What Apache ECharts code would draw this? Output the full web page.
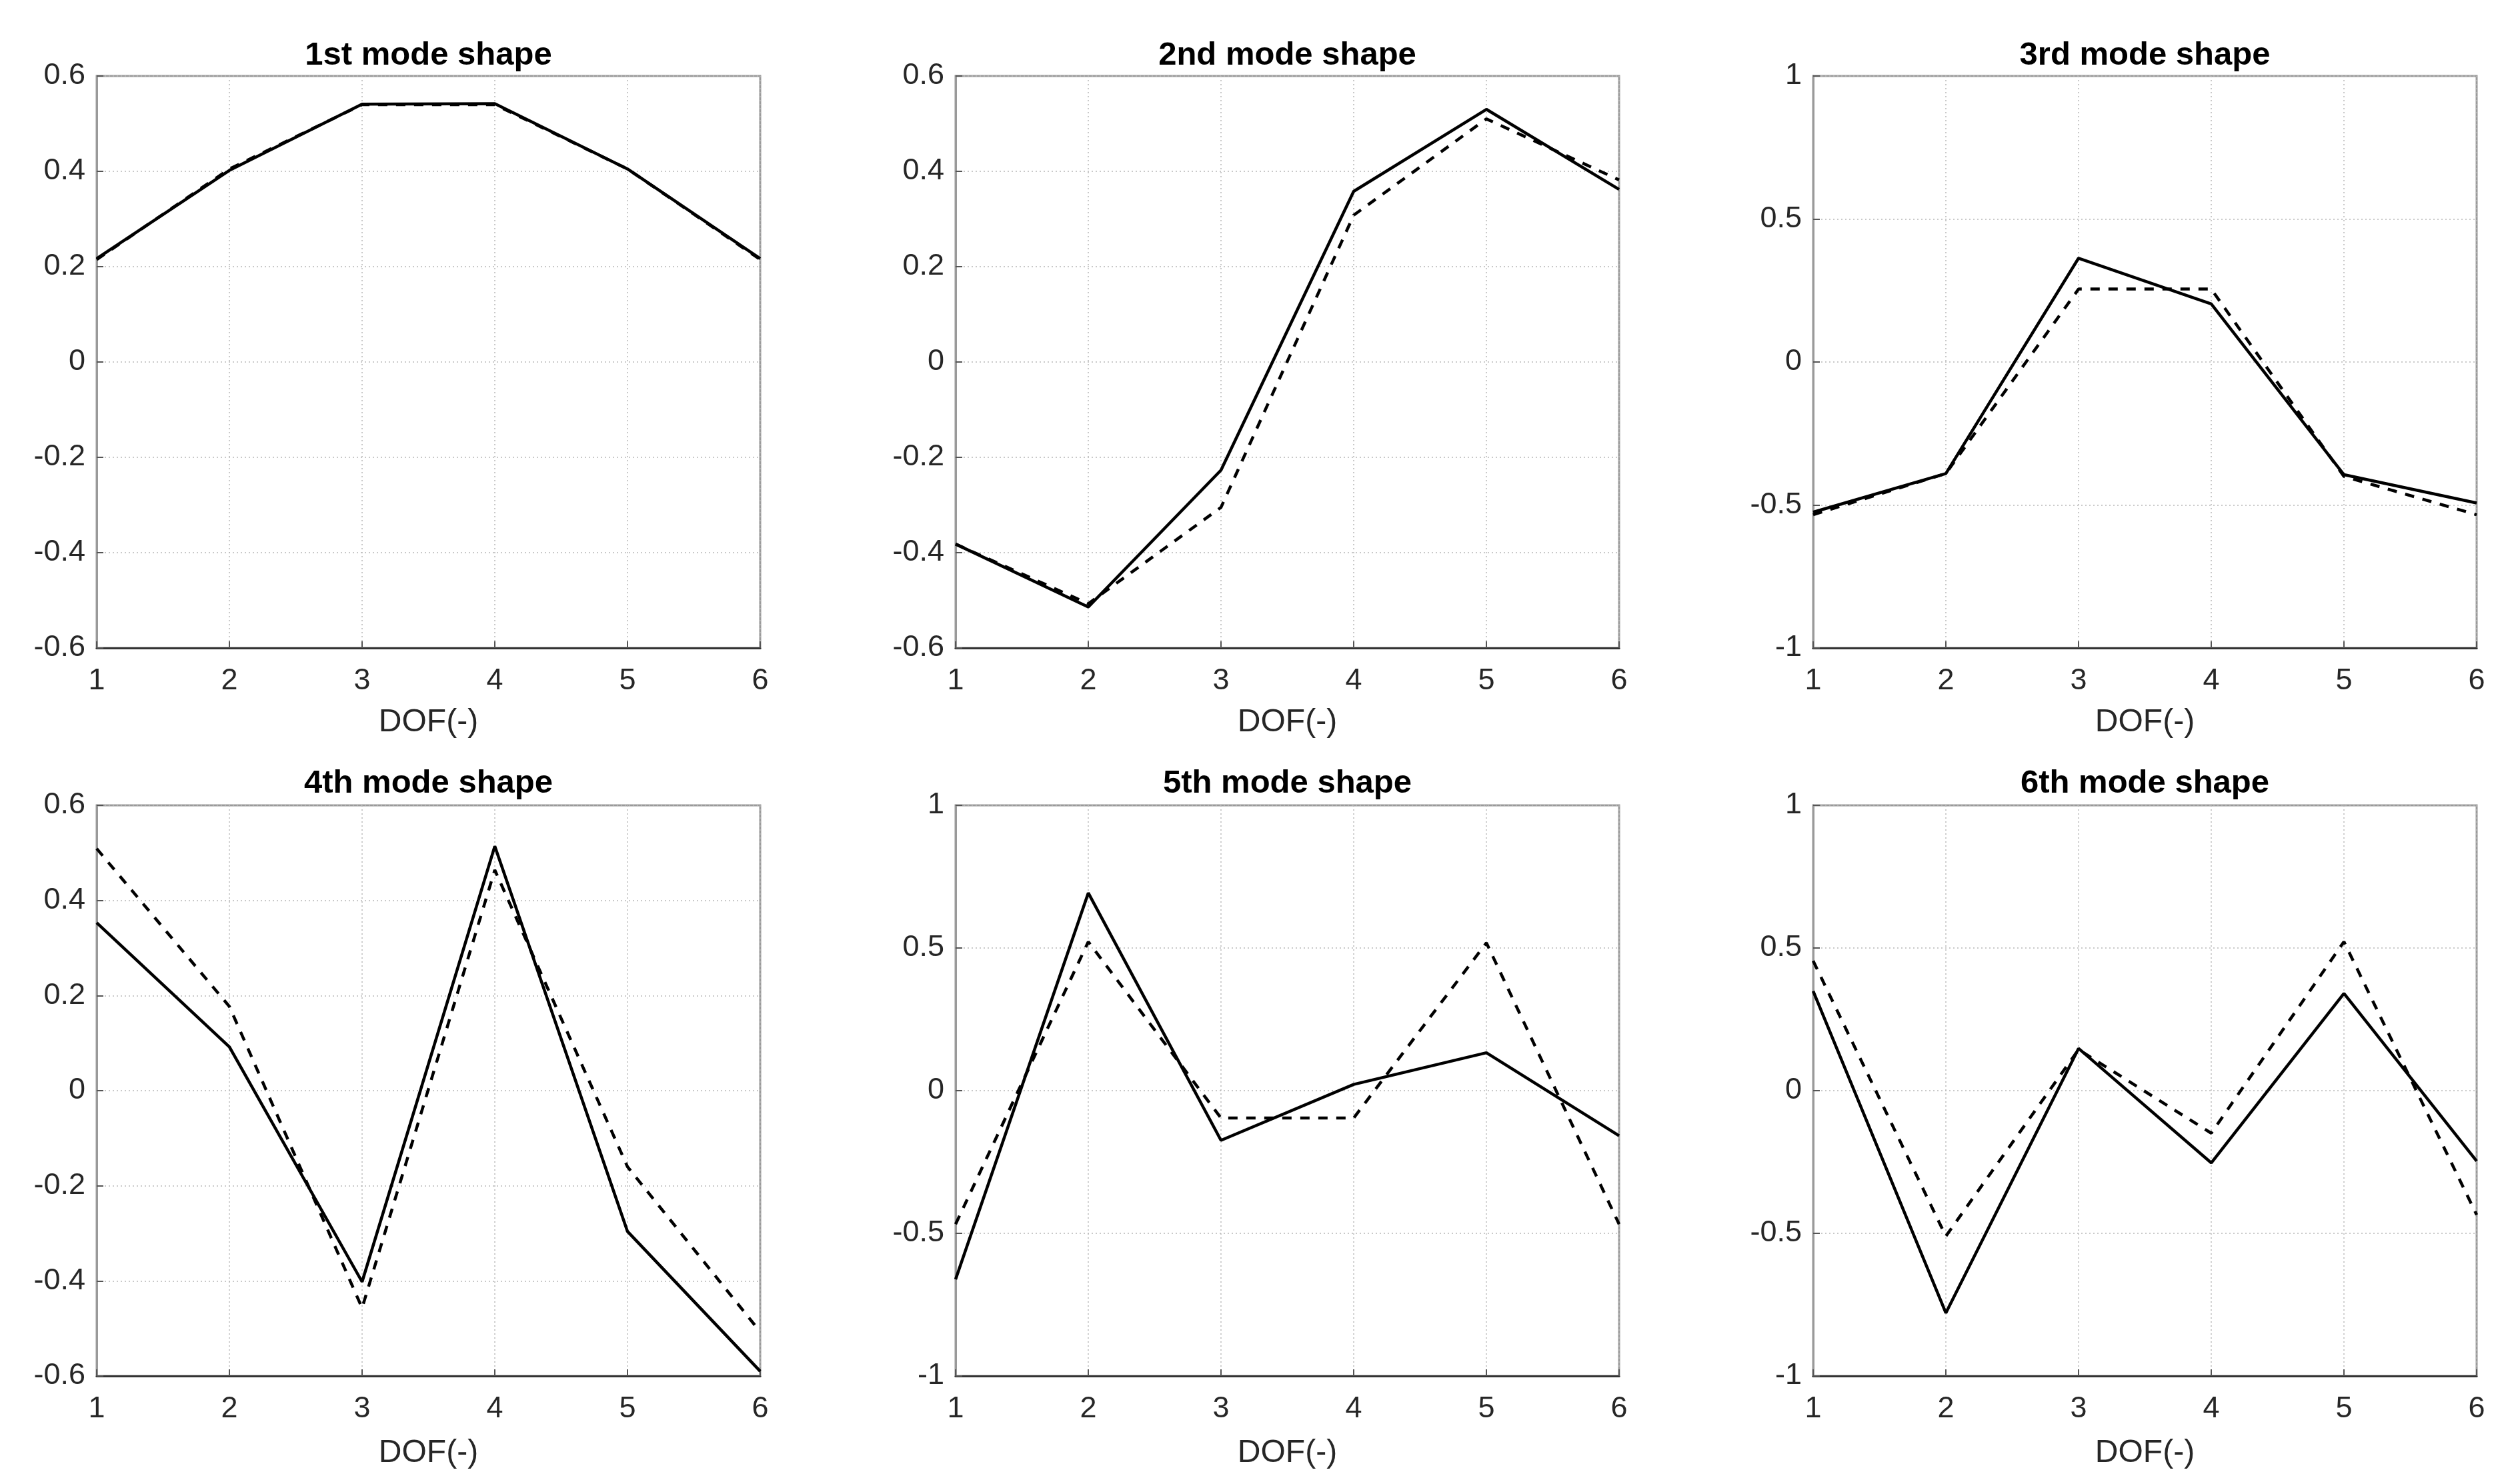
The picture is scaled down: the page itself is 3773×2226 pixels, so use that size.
<!DOCTYPE html>
<html>
<head>
<meta charset="utf-8">
<script src="https://cdn.jsdelivr.net/npm/echarts@6/dist/echarts.min.js"></script>
<style>
html,body{margin:0;padding:0;background:#fff;}
#chart{width:3773px;height:2226px;}
</style>
</head>
<body>
<div id="chart"></div>
<script>
// ---- data ----
const dof = [1, 2, 3, 4, 5, 6];
const xTicks = ['1', '2', '3', '4', '5', '6'];
const titles = ['1st mode shape', '2nd mode shape', '3rd mode shape', '4th mode shape', '5th mode shape', '6th mode shape'];
const xLabel = 'DOF(-)';

const mode1Solid  = [0.217, 0.402, 0.541, 0.542, 0.405, 0.217];
const mode1Dashed = [0.215, 0.405, 0.540, 0.540, 0.405, 0.215];

const mode2Solid  = [-0.382, -0.514, -0.227, 0.358, 0.530, 0.362];
const mode2Dashed = [-0.382, -0.507, -0.305, 0.308, 0.510, 0.382];

const mode3Solid  = [-0.525, -0.390, 0.363, 0.203, -0.394, -0.493];
const mode3Dashed = [-0.534, -0.390, 0.255, 0.255, -0.400, -0.534];

const mode4Solid  = [0.353, 0.092, -0.402, 0.514, -0.296, -0.590];
const mode4Dashed = [0.509, 0.177, -0.457, 0.464, -0.160, -0.507];

const mode5Solid  = [-0.661, 0.693, -0.174, 0.022, 0.133, -0.158];
const mode5Dashed = [-0.468, 0.522, -0.096, -0.096, 0.518, -0.468];

const mode6Solid  = [0.349, -0.779, 0.148, -0.253, 0.341, -0.247];
const mode6Dashed = [0.455, -0.510, 0.144, -0.149, 0.522, -0.435];

// y-axis ranges per panel [min, max, interval]
const yRanges = [
  [-0.6, 0.6, 0.2], [-0.6, 0.6, 0.2], [-1, 1, 0.5],
  [-0.6, 0.6, 0.2], [-1, 1, 0.5], [-1, 1, 0.5]
];

const solids = [mode1Solid, mode2Solid, mode3Solid, mode4Solid, mode5Solid, mode6Solid];
const dasheds = [mode1Dashed, mode2Dashed, mode3Dashed, mode4Dashed, mode5Dashed, mode6Dashed];

// ---- layout ----
const colLefts = [145, 1433, 2719];
const rowTops = [114, 1208];
const gridW = 995;
const gridHs = [858, 856];
const titleTops = [59, 1151];
const nameGaps = [88, 92];
const FONT = "'Liberation Sans', Arial, Helvetica, sans-serif";

const grids = [], xAxes = [], yAxes = [], series = [], titleArr = [];

for (let i = 0; i < 6; i++) {
  const r = Math.floor(i / 3), c = i % 3;
  grids.push({
    left: colLefts[c], top: rowTops[r], width: gridW, height: gridHs[r],
    show: true, borderColor: '#9a9a9a', borderWidth: 3, backgroundColor: '#fff'
  });
  titleArr.push({
    text: titles[i],
    left: colLefts[c] + gridW / 2,
    top: titleTops[r],
    textAlign: 'center',
    padding: 0,
    textStyle: { fontFamily: FONT, fontSize: 49, fontWeight: 'bold', color: '#000' }
  });
  xAxes.push({
    type: 'value', gridIndex: i, min: 1, max: 6, interval: 1,
    name: xLabel, nameLocation: 'middle', nameGap: nameGaps[r],
    nameTextStyle: { fontFamily: FONT, fontSize: 48, color: '#262626' },
    axisLine: { show: true, onZero: false, lineStyle: { color: '#333', width: 3 } },
    axisTick: { show: true, inside: true, length: 10, lineStyle: { color: '#555', width: 2 } },
    axisLabel: {
      fontFamily: FONT, fontSize: 45, color: '#262626', margin: 27,
      formatter: v => xTicks[dof.indexOf(v)] !== undefined ? xTicks[dof.indexOf(v)] : ''
    },
    splitLine: { show: true, lineStyle: { color: '#b8b8b8', width: 1.5, type: [2, 4] } }
  });
  const yr = yRanges[i];
  yAxes.push({
    type: 'value', gridIndex: i, min: yr[0], max: yr[1], interval: yr[2],
    axisLine: { show: true, onZero: false, lineStyle: { color: '#9a9a9a', width: 3 } },
    axisTick: { show: true, inside: true, length: 10, lineStyle: { color: '#555', width: 2 } },
    axisLabel: { fontFamily: FONT, fontSize: 45, color: '#262626', margin: 17 },
    splitLine: { show: true, lineStyle: { color: '#b8b8b8', width: 1.5, type: [2, 4] } }
  });
  series.push({
    type: 'line', xAxisIndex: i, yAxisIndex: i, symbol: 'none', z: 3,
    data: dof.map((d, k) => [d, dasheds[i][k]]),
    lineStyle: { color: '#000', width: 4.5, type: [14, 13] }, animation: false
  });
  series.push({
    type: 'line', xAxisIndex: i, yAxisIndex: i, symbol: 'none', z: 4,
    data: dof.map((d, k) => [d, solids[i][k]]),
    lineStyle: { color: '#000', width: 4.5, type: 'solid' }, animation: false
  });
}

const chart = echarts.init(document.getElementById('chart'), null, { renderer: 'canvas' });
chart.setOption({
  backgroundColor: '#fff',
  animation: false,
  title: titleArr,
  grid: grids,
  xAxis: xAxes,
  yAxis: yAxes,
  series: series
});
</script>
</body>
</html>
